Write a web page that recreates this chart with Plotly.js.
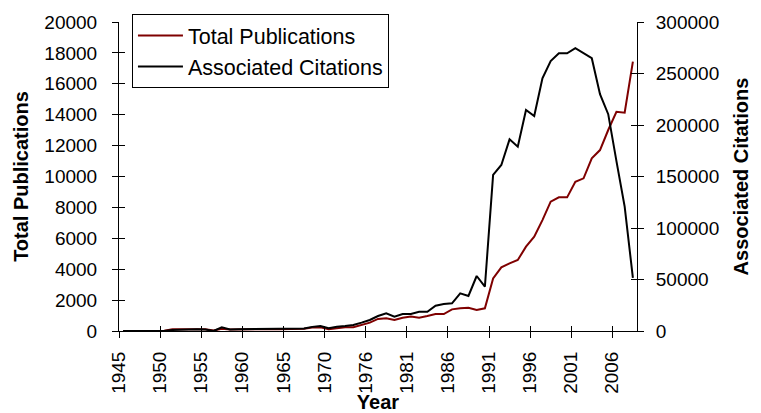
<!DOCTYPE html>
<html>
<head>
<meta charset="utf-8">
<script src="https://cdn.plot.ly/plotly-3.0.1.min.js"></script>
<style>html,body{margin:0;padding:0;background:#fff;}#chart{width:761px;height:413px;}</style>
</head>
<body>
<div id="chart"></div>
<script>
// Categories (one year between 1970 and 1976 is absent from the source series)
const years = [1945,1946,1947,1948,1949,1950,1951,1952,1953,1954,1955,1956,1957,1958,1959,1960,
  1961,1962,1963,1964,1965,1966,1967,1968,1969,1970,1971,1972,1973,1975,1976,1977,1978,1979,1980,
  1981,1982,1983,1984,1985,1986,1987,1988,1989,1990,1991,1992,1993,1994,1995,1996,1997,1998,1999,
  2000,2001,2002,2003,2004,2005,2006,2007,2008];

// Total Publications (left axis)
const publications = [0,0,0,0,0,10,110,120,120,120,110,30,150,100,110,110,
  110,110,110,110,110,120,140,220,240,110,175,240,240,390,540,780,820,710,860,
  930,860,970,1100,1100,1400,1470,1510,1360,1470,3400,4120,4380,4595,5460,6100,7180,8370,8650,
  8650,9660,9880,11180,11710,13010,14190,14130,17430];

// Associated Citations (right axis)
const citations = [0,0,0,0,0,0,1000,1500,1500,1800,1500,0,3500,1500,1800,1800,
  1800,1800,1800,1800,1900,2000,2500,4000,4850,2600,4200,4850,5800,8100,10700,14560,17200,13900,16500,
  16500,18700,18700,24600,26200,26900,36600,34000,53400,43000,151500,161200,186100,178900,214600,208700,245400,262100,269600,
  269600,274500,269600,264800,230000,210500,165000,120700,51500];

const tickEvery = 5;

const xIdx = years.map((_, i) => i);
const tickPos = [], tickText = [];
for (let k = 0; k < years.length; k += tickEvery) { tickPos.push(k - 0.5); tickText.push(String(years[k])); }

const FONT = 'Liberation Sans, Arial, sans-serif';
const TICKFONT = {family: FONT, size: 19, color: '#000'};
const TITLEFONT = {family: FONT, size: 20, color: '#000', weight: 'bold'};
const xRange = [-0.5, years.length - 0.5];

const traces = [
  {x: xIdx, y: publications, name: 'Total Publications', type: 'scatter', mode: 'lines',
   line: {color: '#7f0000', width: 2}, xaxis: 'x', yaxis: 'y'},
  {x: xIdx, y: citations, name: 'Associated Citations', type: 'scatter', mode: 'lines',
   line: {color: '#000000', width: 2}, xaxis: 'x', yaxis: 'y2'},
  {x: [], y: [], xaxis: 'x2', yaxis: 'y3', showlegend: false, hoverinfo: 'skip', type: 'scatter'},
  {x: [], y: [], xaxis: 'x2', yaxis: 'y4', showlegend: false, hoverinfo: 'skip', type: 'scatter'}
];

const layout = {
  width: 761, height: 413,
  margin: {l: 119, r: 124, t: 22, b: 82, pad: 0},
  paper_bgcolor: '#fff', plot_bgcolor: '#fff',
  font: {family: FONT, color: '#000'},
  showlegend: true,
  legend: {x: 0.025, y: 1.026, xanchor: 'left', yanchor: 'top', bgcolor: '#fff',
    bordercolor: '#000', borderwidth: 1, font: {family: FONT, size: 21.5, color: '#000'},
    itemwidth: 45, traceorder: 'normal'},
  xaxis: {range: xRange, tickmode: 'array', tickvals: tickPos, ticktext: tickText,
    tickangle: -90, ticks: 'outside', ticklen: 6, tickwidth: 1, tickcolor: '#000',
    showline: true, linecolor: '#000', linewidth: 1, showgrid: false, zeroline: false,
    tickfont: TICKFONT, ticklabelstandoff: 6,
    title: {text: 'Year', font: TITLEFONT, standoff: 4}, automargin: false},
  xaxis2: {range: xRange, overlaying: 'x', anchor: 'y', tickmode: 'array', tickvals: tickPos,
    ticks: 'inside', ticklen: 5, tickwidth: 1, tickcolor: '#000', showticklabels: false,
    showline: false, showgrid: false, zeroline: false},
  yaxis: {range: [0, 20000], dtick: 2000, tick0: 0, ticks: 'outside', ticklen: 6, tickwidth: 1,
    tickcolor: '#000', showline: true, linecolor: '#000', linewidth: 1, showgrid: false,
    zeroline: false, tickfont: TICKFONT, ticklabelstandoff: 11,
    tickformat: 'd',
    title: {text: 'Total Publications', font: TITLEFONT, standoff: 10}, automargin: false},
  yaxis2: {range: [0, 300000], dtick: 50000, tick0: 0, overlaying: 'y', side: 'right', anchor: 'x',
    ticks: 'outside', ticklen: 6, tickwidth: 1, tickcolor: '#000', showline: true, linecolor: '#000',
    linewidth: 1, showgrid: false, zeroline: false, tickfont: TICKFONT, ticklabelstandoff: 8,
    tickformat: 'd',
    title: {text: 'Associated Citations', font: TITLEFONT, standoff: 15}, automargin: false},
  yaxis3: {range: [0, 20000], dtick: 2000, tick0: 0, overlaying: 'y', side: 'left', anchor: 'x',
    ticks: 'inside', ticklen: 6, tickwidth: 1, tickcolor: '#000', showticklabels: false,
    showline: false, showgrid: false, zeroline: false},
  yaxis4: {range: [0, 300000], dtick: 50000, tick0: 0, overlaying: 'y', side: 'right', anchor: 'x',
    ticks: 'inside', ticklen: 6, tickwidth: 1, tickcolor: '#000', showticklabels: false,
    showline: false, showgrid: false, zeroline: false}
};

Plotly.newPlot('chart', traces, layout, {staticPlot: true, displayModeBar: false});
</script>
</body>
</html>
